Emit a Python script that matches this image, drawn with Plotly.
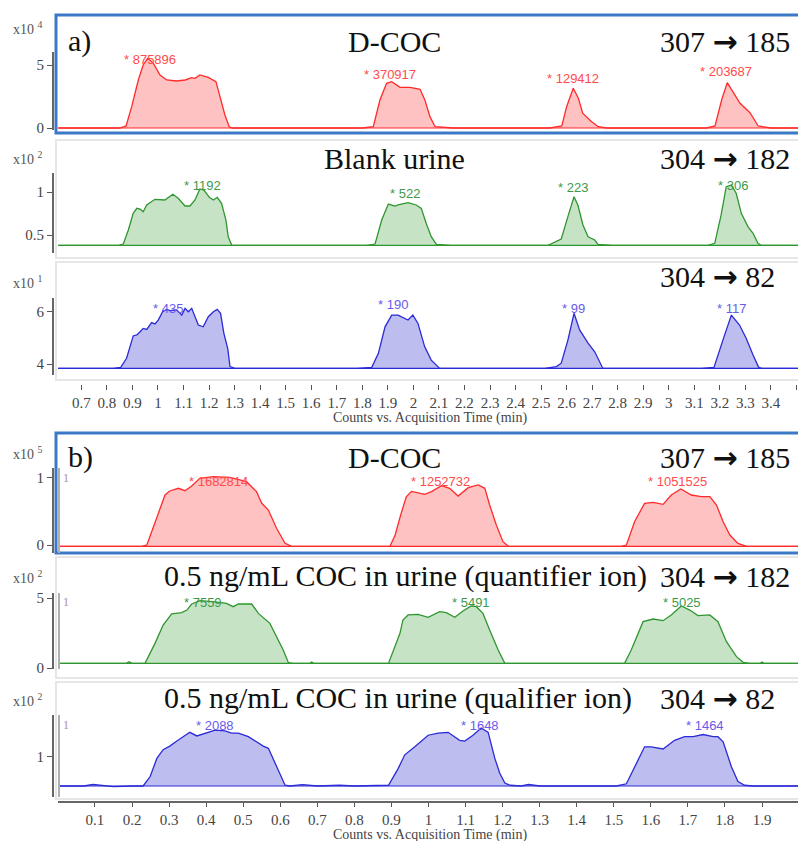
import plotly.graph_objects as go

# ---------------- data ----------------
# Part a) time axis (min) and intensities (in the axis multiplier units)
a1_time = [0.61, 0.851, 0.875, 0.897, 0.923, 0.942, 0.960, 0.982, 1.008, 1.034, 1.073, 1.106, 1.132, 1.145, 1.164, 1.197, 1.227, 1.243, 1.262, 1.279, 1.29,
           1.80, 1.843, 1.869, 1.895, 1.915, 1.948, 1.987, 2.026, 2.045, 2.065, 2.085, 2.156,
           2.535, 2.581, 2.600, 2.626, 2.646, 2.663, 2.698, 2.724, 2.757,
           3.148, 3.181, 3.207, 3.229, 3.253, 3.279, 3.318, 3.35, 3.40, 3.51]
a1_counts = [0, 0, 0.16, 1.69, 3.81, 5.0, 5.53, 5.13, 4.21, 3.81, 3.73, 3.81, 3.99, 3.94, 4.21, 4.02, 3.68, 2.49, 1.03, 0.1, 0,
             0, 0.1, 2.22, 3.55, 3.68, 3.23, 3.23, 3.07, 2.22, 0.9, 0.1, 0,
             0, 0.16, 1.69, 3.15, 2.36, 1.17, 0.5, 0.1, 0,
             0, 0.16, 2.22, 3.6, 2.76, 1.96, 1.21, 0.16, 0, 0]
a1_base = 0.0

a2_time = [0.61, 0.845, 0.864, 0.884, 0.903, 0.917, 0.930, 0.942, 0.956, 0.988, 1.027, 1.058, 1.079, 1.106, 1.125, 1.145, 1.164, 1.180, 1.201, 1.217, 1.232, 1.249, 1.266, 1.275, 1.289,
           1.817, 1.850, 1.876, 1.902, 1.928, 1.940, 1.979, 2.011, 2.031, 2.050, 2.070, 2.090, 2.148,
           2.527, 2.560, 2.579, 2.605, 2.629, 2.644, 2.664, 2.684, 2.710, 2.723, 2.780,
           3.153, 3.180, 3.205, 3.225, 3.245, 3.264, 3.284, 3.310, 3.330, 3.349, 3.362, 3.51]
a2_counts = [0.38, 0.38, 0.395, 0.558, 0.752, 0.81, 0.80, 0.771, 0.849, 0.915, 0.907, 0.973, 0.927, 0.837, 0.837, 0.907, 1.035, 1.023, 0.938, 0.907, 0.938, 0.869, 0.674, 0.48, 0.38,
             0.38, 0.395, 0.674, 0.86, 0.837, 0.849, 0.876, 0.849, 0.81, 0.636, 0.48, 0.392, 0.38,
             0.38, 0.422, 0.453, 0.713, 0.945, 0.849, 0.616, 0.48, 0.442, 0.392, 0.38,
             0.38, 0.403, 0.733, 1.062, 1.081, 0.985, 0.752, 0.597, 0.52, 0.403, 0.38, 0.38]
a2_base = 0.38

a3_time = [0.61, 0.825, 0.854, 0.877, 0.903, 0.917, 0.930, 0.942, 0.956, 0.975, 0.988, 1.001, 1.018, 1.034, 1.047, 1.073, 1.093, 1.106, 1.119, 1.132, 1.145, 1.158, 1.177, 1.197, 1.217, 1.232, 1.245, 1.258, 1.273, 1.282, 1.301,
           1.778, 1.837, 1.863, 1.889, 1.915, 1.940, 1.979, 1.998, 2.018, 2.044, 2.070, 2.103,
           2.514, 2.560, 2.579, 2.605, 2.629, 2.651, 2.684, 2.710, 2.738, 2.742,
           3.127, 3.177, 3.212, 3.245, 3.277, 3.303, 3.330, 3.352, 3.365, 3.51]
a3_counts = [3.83, 3.83, 3.87, 4.22, 5.08, 5.12, 5.24, 5.37, 5.33, 5.59, 5.54, 5.69, 6.01, 6.10, 6.05, 6.08, 5.88, 6.14, 6.01, 6.14, 5.82, 5.50, 5.43, 5.82, 6.01, 6.10, 5.95, 5.18, 4.60, 3.90, 3.83,
             3.83, 3.87, 4.41, 5.43, 5.88, 5.88, 5.69, 5.88, 5.56, 4.67, 4.15, 3.83,
             3.83, 3.90, 4.03, 4.92, 5.95, 5.31, 4.80, 4.47, 3.87, 3.83,
             3.83, 3.87, 4.92, 5.88, 5.50, 4.99, 4.35, 3.87, 3.83, 3.83]
a3_base = 3.83

# Part b)
b1_time = [0.0, 0.226, 0.240, 0.267, 0.289, 0.302, 0.325, 0.343, 0.361, 0.383, 0.419, 0.464, 0.509, 0.536, 0.550, 0.568, 0.590, 0.613, 0.631,
           0.896, 0.910, 0.925, 0.940, 0.954, 0.990, 1.008, 1.035, 1.057, 1.080, 1.107, 1.134, 1.152, 1.165, 1.183, 1.201, 1.215, 1.220,
           1.520, 1.534, 1.556, 1.583, 1.606, 1.633, 1.655, 1.681, 1.709, 1.736, 1.759, 1.777, 1.795, 1.813, 1.835, 1.858, 2.0]
b1_counts = [-0.02, -0.02, 0, 0.40, 0.746, 0.806, 0.846, 0.81, 0.88, 0.995, 1.02, 1.01, 0.945, 0.796, 0.622, 0.522, 0.249, 0.025, -0.02,
             -0.02, 0.15, 0.45, 0.72, 0.80, 0.757, 0.796, 0.885, 0.846, 0.731, 0.855, 0.896, 0.846, 0.597, 0.299, 0.05, -0.015, -0.02,
             -0.02, 0, 0.348, 0.622, 0.637, 0.607, 0.746, 0.836, 0.746, 0.721, 0.721, 0.597, 0.348, 0.149, 0.025, -0.02, -0.02]
b1_base = -0.02

b2_time = [0.0, 0.185, 0.192, 0.200, 0.235, 0.262, 0.284, 0.307, 0.334, 0.348, 0.361, 0.383, 0.419, 0.455, 0.473, 0.487, 0.523, 0.541, 0.572, 0.590, 0.608, 0.622, 0.635, 0.680, 0.685, 0.690,
           0.892, 0.923, 0.931, 0.945, 0.972, 0.999, 1.030, 1.048, 1.071, 1.093, 1.115, 1.129, 1.147, 1.165, 1.188, 1.206,
           1.529, 1.547, 1.579, 1.606, 1.633, 1.655, 1.682, 1.705, 1.727, 1.759, 1.781, 1.804, 1.831, 1.849, 1.867, 1.895, 1.900, 1.905, 2.0]
b2_counts = [0.33, 0.33, 0.45, 0.33, 0.33, 1.76, 3.07, 3.86, 3.95, 4.14, 4.57, 4.81, 4.74, 4.62, 4.38, 4.57, 4.57, 3.90, 3.19, 2.24, 1.29, 0.38, 0.33, 0.33, 0.42, 0.33,
             0.33, 2.48, 3.43, 3.79, 3.83, 3.62, 4.02, 3.95, 3.62, 4.07, 4.43, 4.38, 3.90, 2.71, 1.29, 0.33,
             0.33, 1.29, 3.31, 3.50, 3.38, 3.79, 4.43, 4.14, 3.74, 3.79, 3.31, 1.88, 0.81, 0.41, 0.33, 0.33, 0.42, 0.33, 0.33]
b2_base = 0.33

b3_time = [0.0, 0.070, 0.095, 0.120, 0.150, 0.200, 0.230, 0.249, 0.267, 0.284, 0.302, 0.321, 0.338, 0.356, 0.375, 0.397, 0.424, 0.451, 0.469, 0.487, 0.514, 0.536, 0.554, 0.568, 0.590, 0.613, 0.626, 0.660, 0.700, 0.760, 0.800, 0.850,
           0.892, 0.918, 0.936, 0.963, 0.999, 1.026, 1.053, 1.084, 1.098, 1.120, 1.142, 1.161, 1.179, 1.192, 1.206, 1.220, 1.250, 1.270, 1.300,
           1.507, 1.534, 1.583, 1.601, 1.633, 1.664, 1.691, 1.714, 1.741, 1.768, 1.781, 1.795, 1.817, 1.835, 1.853, 1.875, 2.0]
b3_counts = [0.60, 0.60, 0.62, 0.61, 0.59, 0.60, 0.60, 0.73, 0.98, 1.10, 1.15, 1.22, 1.28, 1.34, 1.29, 1.33, 1.37, 1.36, 1.33, 1.33, 1.28, 1.21, 1.15, 1.12, 0.87, 0.61, 0.60, 0.62, 0.60, 0.61, 0.60, 0.61,
             0.61, 0.84, 1.03, 1.14, 1.30, 1.33, 1.34, 1.23, 1.22, 1.30, 1.40, 1.34, 0.98, 0.78, 0.64, 0.61, 0.60, 0.62, 0.60,
             0.60, 0.63, 1.14, 1.14, 1.11, 1.23, 1.28, 1.28, 1.31, 1.28, 1.28, 1.21, 0.87, 0.66, 0.61, 0.60, 0.60]
b3_base = 0.60

# peak labels
a1_label_time = [0.969, 1.910, 2.625, 3.224]
a1_label_counts = [5.40, 4.21, 3.89, 4.45]
a1_label_text = ["* 875896", "* 370917", "* 129412", "* 203687"]
a2_label_time = [1.174, 1.967, 2.625, 3.251]
a2_label_counts = [1.081, 0.988, 1.058, 1.081]
a2_label_text = ["* 1192", "* 522", "* 223", "* 306"]
a3_label_time = [1.041, 1.920, 2.627, 3.247]
a3_label_counts = [6.15, 6.27, 6.15, 6.15]
a3_label_text = ["* 435", "* 190", "* 99", "* 117"]
b1_label_time = [0.433, 1.032, 1.673]
b1_label_counts = [0.955, 0.955, 0.955]
b1_label_text = ["* 1682814", "* 1252732", "* 1051525"]
b2_label_time = [0.392, 1.115, 1.685]
b2_label_counts = [4.71, 4.71, 4.71]
b2_label_text = ["* 7559", "* 5491", "* 5025"]
b3_label_time = [0.423, 1.138, 1.747]
b3_label_counts = [1.44, 1.44, 1.44]
b3_label_text = ["* 2088", "* 1648", "* 1464"]

# tick values / labels
a_tick_vals = [0.7, 0.8, 0.9, 1.0, 1.1, 1.2, 1.3, 1.4, 1.5, 1.6, 1.7, 1.8, 1.9, 2.0, 2.1, 2.2, 2.3, 2.4, 2.5, 2.6, 2.7, 2.8, 2.9, 3.0, 3.1, 3.2, 3.3, 3.4, 3.5]
a_tick_text = ["0.7", "0.8", "0.9", "1", "1.1", "1.2", "1.3", "1.4", "1.5", "1.6", "1.7", "1.8", "1.9", "2", "2.1", "2.2", "2.3", "2.4", "2.5", "2.6", "2.7", "2.8", "2.9", "3", "3.1", "3.2", "3.3", "3.4", "3.5"]
b_tick_vals = [0.1, 0.2, 0.3, 0.4, 0.5, 0.6, 0.7, 0.8, 0.9, 1.0, 1.1, 1.2, 1.3, 1.4, 1.5, 1.6, 1.7, 1.8, 1.9, 2.0]
b_tick_text = ["0.1", "0.2", "0.3", "0.4", "0.5", "0.6", "0.7", "0.8", "0.9", "1", "1.1", "1.2", "1.3", "1.4", "1.5", "1.6", "1.7", "1.8", "1.9", "2"]
y_tick_vals = {1: [0, 5], 2: [0.5, 1], 3: [4, 6], 4: [0, 1], 5: [0, 5], 6: [1]}
y_tick_text = {1: ["0", "5"], 2: ["0.5", "1"], 3: ["4", "6"], 4: ["0", "1"], 5: ["0", "5"], 6: ["1"]}
multipliers = ["4", "2", "1", "5", "2", "2"]

ARROW = "<span style=\"font-family:'DejaVu Sans';font-weight:bold\">→</span>"
titles_mid = ["D-COC", "Blank urine", "", "D-COC", "0.5 ng/mL COC in urine (quantifier ion)", "0.5 ng/mL COC in urine (qualifier ion)"]
titles_trans = ["307 " + ARROW + " 185", "304 " + ARROW + " 182", "304 " + ARROW + " 82",
                "307 " + ARROW + " 185", "304 " + ARROW + " 182", "304 " + ARROW + " 82"]
part_labels = ["a)", "", "", "b)", "", ""]
x_title = "Counts vs. Acquisition Time (min)"

# ---------------- styling / layout ----------------
W, H = 798, 841
def px(v):
    return v / W
def py(v):
    return 1 - v / H

RED, RED_FILL, RED_TXT = "#ff2a2a", "#ffc2c2", "#ff4b4b"
GRN, GRN_FILL, GRN_TXT = "#2f962f", "#c6e3c6", "#3d9a4a"
BLU, BLU_FILL, BLU_TXT = "#2a2ad6", "#bdbdf0", "#6a5aea"
SERIF = "Liberation Serif"
SANS = "Liberation Sans"
TICK_FONT = dict(family=SERIF, size=15, color="#444")

panels = [
    dict(t=a1_time, v=a1_counts, base=a1_base, c=RED, f=RED_FILL, tc=RED_TXT, lt=a1_label_time, lv=a1_label_counts, ls=a1_label_text,
         ax=(52, 130), yr=[-0.159, 6.032], box=(15, 133), blue=True, xr=[0.6085, 3.506], ty=41, mul_y=28),
    dict(t=a2_time, v=a2_counts, base=a2_base, c=GRN, f=GRN_FILL, tc=GRN_TXT, lt=a2_label_time, lv=a2_label_counts, ls=a2_label_text,
         ax=(173, 253), yr=[0.2907, 1.221], box=(140, 258), blue=False, xr=[0.6085, 3.506], ty=158, mul_y=158),
    dict(t=a3_time, v=a3_counts, base=a3_base, c=BLU, f=BLU_FILL, tc=BLU_TXT, lt=a3_label_time, lv=a3_label_counts, ls=a3_label_text,
         ax=(298, 375), yr=[3.577, 6.538], box=(262, 380), blue=False, xr=[0.6085, 3.506], ty=276, mul_y=282),
    dict(t=b1_time, v=b1_counts, base=b1_base, c=RED, f=RED_FILL, tc=RED_TXT, lt=b1_label_time, lv=b1_label_counts, ls=b1_label_text,
         ax=(468, 553), yr=[-0.119, 1.149], box=(433, 553), blue=True, xr=[0.0003, 1.997], ty=457, mul_y=453),
    dict(t=b2_time, v=b2_counts, base=b2_base, c=GRN, f=GRN_FILL, tc=GRN_TXT, lt=b2_label_time, lv=b2_label_counts, ls=b2_label_text,
         ax=(593, 669), yr=[-0.071, 5.357], box=(557, 678), blue=False, xr=[0.0003, 1.997], ty=576, mul_y=577),
    dict(t=b3_time, v=b3_counts, base=b3_base, c=BLU, f=BLU_FILL, tc=BLU_TXT, lt=b3_label_time, lv=b3_label_counts, ls=b3_label_text,
         ax=(715, 797), yr=[0.448, 1.579], box=(682, 799), blue=False, xr=[0.0003, 1.997], ty=698, mul_y=700),
]
marker_one_y = {4: 478, 5: 602, 6: 725}

fig = go.Figure()
shapes = []
annotations = []
layout_axes = {}

for i, p in enumerate(panels, start=1):
    xa = "x" if i == 1 else f"x{i}"
    ya = "y" if i == 1 else f"y{i}"
    xr = p["xr"]
    # baseline trace
    fig.add_trace(go.Scatter(x=[xr[0], xr[1]], y=[p["base"], p["base"]], mode="lines",
                             line=dict(color=p["c"], width=1.2), xaxis=xa, yaxis=ya, hoverinfo="skip"))
    fig.add_trace(go.Scatter(x=p["t"], y=p["v"], mode="lines", fill="tonexty", fillcolor=p["f"],
                             line=dict(color=p["c"], width=1.3), xaxis=xa, yaxis=ya))
    # axes
    bottom = i in (3, 6)
    xconf = dict(domain=[px(58), 1], range=xr, showgrid=False, zeroline=False, fixedrange=True)
    if bottom:
        xconf.update(anchor="free", position=py(384 if i == 3 else 802),
                     tickmode="array", tickvals=a_tick_vals if i == 3 else b_tick_vals,
                     ticktext=a_tick_text if i == 3 else b_tick_text,
                     ticks="outside", ticklen=5 if i == 3 else 4, tickwidth=1, tickcolor="#555",
                     tickfont=TICK_FONT,
                     showline=(i == 6), linecolor="#666", linewidth=2)
    else:
        xconf.update(visible=False, anchor=ya)
    layout_axes["xaxis" if i == 1 else f"xaxis{i}"] = xconf
    layout_axes["yaxis" if i == 1 else f"yaxis{i}"] = dict(
        domain=[py(p["ax"][1]), py(p["ax"][0])], range=p["yr"], anchor="free", position=px(53),
        showline=True, linecolor="#666", linewidth=2, ticks="outside", ticklen=5, tickcolor="#555",
        tickmode="array", tickvals=y_tick_vals[i], ticktext=y_tick_text[i],
        tickfont=TICK_FONT, showgrid=False, zeroline=False)

    # panel box
    shapes.append(dict(type="rect", xref="paper", yref="paper", x0=px(56), x1=px(803),
                       y0=py(p["box"][1]), y1=py(p["box"][0]),
                       line=dict(color="#3c78c8" if p["blue"] else "#e6e6e6", width=3 if p["blue"] else 2),
                       fillcolor="rgba(0,0,0,0)", layer="above"))
    if i >= 4:
        shapes.append(dict(type="line", xref="paper", yref="paper", x0=px(59), x1=px(59),
                           y0=py(p["ax"][1]), y1=py(p["ax"][0]), line=dict(color="#b0b0b0", width=2)))
        annotations.append(dict(xref="paper", yref="paper", x=px(61), y=py(marker_one_y[i]),
                                text="1", showarrow=False, xanchor="left", yanchor="middle",
                                font=dict(family=SERIF, size=12, color="#b08a98")))

    # multiplier
    annotations.append(dict(xref="paper", yref="paper", x=px(11), y=py(p["mul_y"]),
                            text=f"x10 <sup>{multipliers[i - 1]}</sup>", showarrow=False,
                            xanchor="left", yanchor="middle", font=dict(family=SERIF, size=14, color="#555")))
    # peak labels
    for lt, lv, ls in zip(p["lt"], p["lv"], p["ls"]):
        annotations.append(dict(xref=xa, yref=ya, x=lt, y=lv, text=ls, showarrow=False,
                                xanchor="center", yanchor="middle",
                                font=dict(family=SANS, size=13, color=p["tc"])))
    # titles
    if part_labels[i - 1]:
        annotations.append(dict(xref="paper", yref="paper", x=px(66), y=py(p["ty"]), text=part_labels[i - 1],
                                showarrow=False, xanchor="left", yanchor="middle",
                                font=dict(family=SERIF, size=30, color="#111")))
    mid = titles_mid[i - 1]
    if mid:
        left = {1: 346, 2: 322, 4: 346, 5: 162, 6: 162}[i]
        annotations.append(dict(xref="paper", yref="paper", x=px(left), y=py(p["ty"]), text=mid,
                                showarrow=False, xanchor="left", yanchor="middle",
                                font=dict(family=SERIF, size=30, color="#111")))
    annotations.append(dict(xref="paper", yref="paper", x=px(658), y=py(p["ty"]), text=titles_trans[i - 1],
                            showarrow=False, xanchor="left", yanchor="middle",
                            font=dict(family=SERIF, size=30, color="#111")))

for yy in (418, 835):
    annotations.append(dict(xref="paper", yref="paper", x=px(430), y=py(yy), text=x_title, showarrow=False,
                            xanchor="center", yanchor="middle", font=dict(family=SERIF, size=14, color="#444")))

fig.update_layout(width=W, height=H, margin=dict(l=0, r=0, t=0, b=0), template="none",
                  paper_bgcolor="white", plot_bgcolor="white", showlegend=False,
                  shapes=shapes, annotations=annotations, **layout_axes)
fig.write_html("out.html")
